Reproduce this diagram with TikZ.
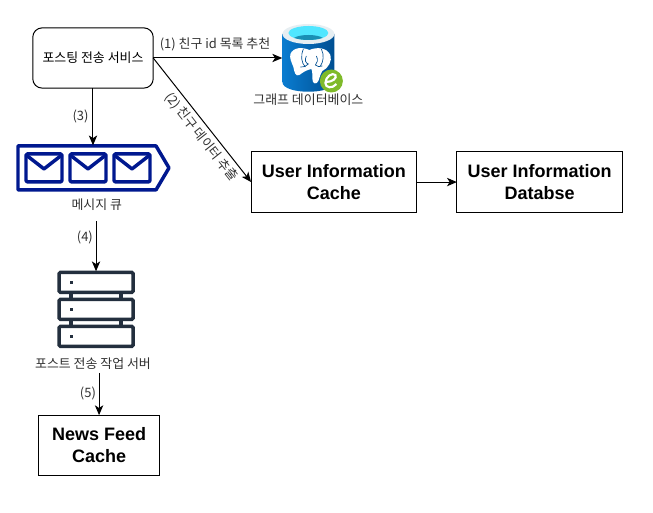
\documentclass[tikz,border=0pt]{standalone}
\usepackage{fontspec}
\setmainfont{Liberation Sans}
\newfontfamily\cjk{Noto Sans CJK KR}
\usepackage{tikz}
\usetikzlibrary{arrows.meta, positioning, calc}
\definecolor{queuenavy}{HTML}{00188F}
\definecolor{serverdark}{HTML}{232F3E}
\definecolor{dbleft}{HTML}{0A7CD0}
\definecolor{dbright}{HTML}{004F92}
\definecolor{dbrim}{HTML}{E6EEF2}
\definecolor{dbwater}{HTML}{50E6FF}
\definecolor{dbdeep}{HTML}{1A8FB5}
\definecolor{dbgreen}{HTML}{7FBA2A}
\definecolor{labelgrey}{HTML}{303030}
\tikzset{
    box/.style={rectangle, draw=black, fill=white, line width=0.75pt, outer sep=0pt, minimum width=4.366cm, minimum height=1.5875cm, align=center, font=\fontsize{13.5}{16.5}\selectfont\bfseries},
    roundbox/.style={box, rounded corners=7pt, minimum width=3.175cm, font=\fontsize{9.7}{11}\selectfont\cjk},
    iconbox/.style={rectangle, inner sep=0pt, outer sep=0pt},
    caption/.style={inner sep=1pt, text=labelgrey, font=\fontsize{9.7}{11}\selectfont\cjk},
    edgelabel/.style={inner sep=1pt, text=labelgrey, font=\fontsize{9.7}{11}\selectfont\cjk},
    arrow/.style={-{Stealth[length=2.6mm, width=2.2mm, inset=0.7mm]}, line width=0.75pt, draw=black},
    navyline/.style={draw=queuenavy, line width=2.6pt, line join=round},
    serverline/.style={draw=serverdark, line width=2.6pt, rounded corners=1pt}
}

\begin{document}
\begin{tikzpicture}[x=0.75pt, y=-0.75pt]
        \useasboundingbox (-93,-58) rectangle (560,455);
        \node[roundbox] (post) {포스팅 전송 서비스};
        \node[iconbox, below=1.508cm of post, minimum width=4.075cm, minimum height=1.19cm] (queue) {};
        \node[caption, below=0.18cm of queue, xshift=0.1cm] (queuelabel) {메시지 큐};
        \node[iconbox, below=2.13cm of queue, xshift=0.08cm, minimum width=2.06cm, minimum height=2.01cm] (server) {};
        \node[caption, below=0.22cm of server, xshift=-0.08cm] (serverlabel) {포스트 전송 작업 서버};
        \node[box, below=1.17cm of serverlabel, xshift=0.16cm, minimum width=3.175cm] (news) {News Feed\\Cache};
        \node[iconbox, right=3.4cm of post.east, minimum width=1.38cm, minimum height=1.77cm] (graphdb) {};
        \node[caption, below=0.02cm of graphdb] (graphlabel) {그래프 데이터베이스};
        \node[box, right=2.58cm of post.east, yshift=-3.27cm] (cache) {User Information\\Cache};
        \node[box, right=1.058cm of cache] (infodb) {User Information\\Databse};

        % message queue icon
        \begin{scope}[shift={(queue.center)}]
            \draw[navyline] (-75,-22) -- (63,-22) -- (76,0) -- (63,22) -- (-75,22) -- cycle;
            \foreach \mx in {-49,-5,39} {
                \draw[navyline, rounded corners=1pt] (\mx-18,-14) rectangle (\mx+18,14);
                \draw[navyline] (\mx-18,-13) -- (\mx,1) -- (\mx+18,-13);
            }
        \end{scope}

        % server icon
        \begin{scope}[shift={(server.center)}]
            \foreach \sy in {-27,0,27} {
                \draw[serverline] (-37,\sy-10) rectangle (37,\sy+10);
                \fill[serverdark] (-26.5,\sy-1.5) rectangle (-23.5,\sy+1.5);
            }
            \foreach \sx in {-25,25} {
                \draw[serverdark, line width=2.6pt] (\sx,-17) -- (\sx,-10) (\sx,10) -- (\sx,17);
            }
        \end{scope}

        % graph database icon
        \begin{scope}[shift={(graphdb.center)}]
            \path[left color=dbleft, right color=dbright] (-26,-24) -- (-26,24) .. controls (-26,37) and (26,37) .. (26,24) -- (26,-24) -- cycle;
            \fill[dbrim] (0,-24) ellipse[x radius=26, y radius=10];
            \fill[dbwater] (0,-25) ellipse[x radius=20, y radius=7];
            \begin{scope}
                \clip (0,-25) ellipse[x radius=20, y radius=7];
                \fill[dbdeep] (0,-17) ellipse[x radius=17, y radius=6];
            \end{scope}
            % elephant
            \fill[white] (-18,-4) .. controls (-15,-11) and (-6,-11) .. (1,-8) .. controls (8,-11) and (18,-11) .. (22,-3) .. controls (24,3) and (20,10) .. (14,13) .. controls (12,16) and (11,20) .. (10,23) .. controls (8,27) and (4,26) .. (4,21) .. controls (4,17) and (4,13) .. (3,11) .. controls (-2,12) and (-5,14) .. (-9,17) .. controls (-13,19) and (-14,14) .. (-15,9) .. controls (-17,4) and (-19,0) .. (-18,-4) -- cycle;
            \draw[dbright, line width=0.5pt] (-5,-9) .. controls (-8,-2) and (-7,5) .. (-3,9) (-2,-2) .. controls (-4,2) and (-3,5) .. (0,6) .. controls (-2,8) and (-4,9) .. (-8,9) (13,-9) .. controls (16,-3) and (15,4) .. (12,8) (8,-2) .. controls (10,2) and (9,5) .. (7,7) .. controls (9,9) and (11,9) .. (14,8);
            % badge
            \fill[dbgreen] (23,23) circle[radius=11.5];
            \draw[white, line width=1.6pt] (18,24) .. controls (24,24) and (29,20) .. (27,17) .. controls (24,14) and (17,19) .. (17,25) .. controls (17,30) and (24,31) .. (28,26);
        \end{scope}

        \draw[arrow] (post) -- node[edgelabel, left=2pt] (label3) {(3)} (queue);
        \draw[arrow, shorten <=6.75pt] (queuelabel.south -| server.north) -- node[edgelabel, left=1pt, pos=0.42] (label4) {(4)} (server);
        \draw[arrow, shorten <=1.5pt] (serverlabel.south -| news.north) -- node[edgelabel, left=1pt] (label5) {(5)} (news);
        \draw[arrow] (post.east) -- node[edgelabel, above=4pt, xshift=-2pt] (label1) {(1) 친구 id 목록 추천} (graphdb.west);
        \draw[arrow] (post.east) -- node[edgelabel, sloped, below=2pt, pos=0.58] (label2) {(2) 친구 데이터 추출} (cache.west);
        \draw[arrow] (cache) -- (infodb);
    \end{tikzpicture}
\end{document}
